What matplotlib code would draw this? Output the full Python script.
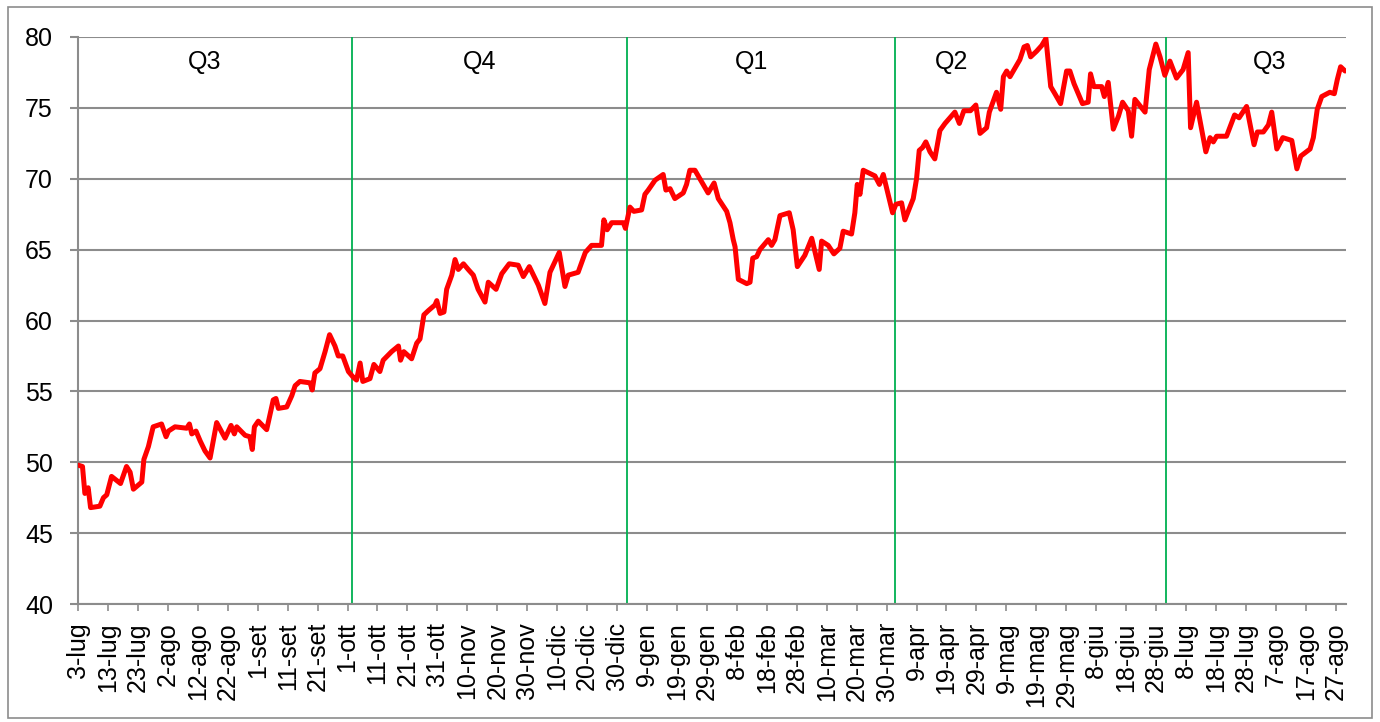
import matplotlib
matplotlib.use("Agg")
import matplotlib.pyplot as plt
from matplotlib.patches import Rectangle

plt.rcParams['font.family'] = ['Liberation Sans', 'DejaVu Sans']

# day offset from 3-lug, value
days = [0, 1.5, 2.3, 3.4, 4.2, 7.3, 8.5, 9.6, 11.2, 14.2, 16.2, 17.4, 18.5, 21.3, 22.0,
        23.5, 25.1, 27.9, 29.4, 30.2, 32.4, 36.3, 37.2, 38.0, 39.4, 40.8, 42.4, 44.1,
        46.3, 49.1, 51.1, 52.2, 53.0, 55.8, 57.4, 58.2, 58.9, 60.2, 63.0, 65.2, 66.1,
        66.9, 69.7, 71.4, 72.5, 74.1, 77.5, 78.2, 79.1, 80.8, 82.5, 84.0, 85.8, 86.9,
        88.4, 90.3, 91.9, 93.0, 94.2, 95.1, 97.5, 98.8, 100.8, 101.9, 104.7, 107.0,
        107.7, 108.8, 111.4, 113.1, 114.2, 115.5, 117.0, 119.2, 119.8, 120.9, 122.2,
        123.1, 124.8, 125.9, 127.0, 128.7, 130.3, 132.0, 133.6, 135.9, 137.0, 139.6,
        141.5, 144.0, 147.0, 148.7, 150.7, 153.7, 155.9, 157.6, 160.7, 162.6, 163.7,
        167.0, 169.4, 171.5, 174.8, 175.6, 176.7, 178.2, 182.1, 182.8, 184.3, 185.6,
        188.2, 189.3, 190.4, 192.7, 195.4, 196.3, 197.7, 199.3, 202.1, 203.2, 204.3,
        206.0, 208.2, 210.4, 212.4, 213.8, 216.6, 217.7, 218.8, 219.4, 220.5, 223.3,
        224.4, 225.3, 226.6, 227.7, 230.5, 231.6, 232.7, 234.4, 237.5, 238.8, 240.2,
        242.7, 245.0, 247.5, 248.3, 250.5, 252.4, 254.4, 255.5, 258.3, 259.4, 260.2,
        261.1, 262.2, 266.1, 267.6, 268.9, 272.0, 273.1, 275.0, 276.1, 278.9, 280.0,
        280.9, 282.0, 283.1, 284.5, 286.1, 287.8, 289.5, 292.8, 294.3, 295.8, 298.0,
        299.8, 301.2, 303.4, 304.3, 306.7, 308.1, 309.0, 310.1, 311.2, 313.4, 314.5,
        315.9, 317.0, 318.1, 320.1, 321.8, 323.2, 324.8, 326.2, 328.1, 330.1, 331.2,
        332.6, 335.4, 337.3, 338.1, 339.2, 341.8, 342.7, 344.0, 345.7, 347.4, 348.8,
        350.7, 351.8, 352.9, 356.3, 357.7, 359.9, 361.3, 362.9, 364.6, 366.8, 369.0,
        370.7, 371.5, 373.5, 376.6, 378.0, 379.1, 380.2, 383.5, 386.2, 387.7, 390.2,
        392.7, 393.8, 395.8, 397.5, 398.6, 400.3, 402.3, 405.3, 407.0, 408.3, 411.4,
        412.5, 413.8, 415.3, 418.0, 419.5, 420.5, 421.6, 423.1]
values = [49.8, 49.7, 47.8, 48.2, 46.8, 46.9, 47.5, 47.7, 49.0, 48.5, 49.7, 49.3, 48.1, 48.6, 50.2,
          51.1, 52.5, 52.7, 51.8, 52.2, 52.5, 52.4, 52.7, 52.0, 52.2, 51.5, 50.8, 50.3,
          52.8, 51.7, 52.6, 52.0, 52.5, 51.9, 51.8, 50.9, 52.5, 52.9, 52.3, 54.4, 54.5,
          53.8, 53.9, 54.7, 55.4, 55.7, 55.6, 55.1, 56.3, 56.6, 57.8, 59.0, 58.2, 57.5,
          57.5, 56.4, 56.0, 55.8, 57.0, 55.7, 55.9, 56.9, 56.4, 57.2, 57.8, 58.2,
          57.2, 57.8, 57.3, 58.4, 58.7, 60.4, 60.7, 61.1, 61.4, 60.5, 60.6,
          62.2, 63.2, 64.3, 63.6, 64.0, 63.6, 63.2, 62.2, 61.3, 62.7, 62.2,
          63.3, 64.0, 63.9, 63.1, 63.8, 62.5, 61.2, 63.4, 64.8, 62.4, 63.2,
          63.4, 64.8, 65.3, 65.3, 67.1, 66.4, 66.9, 66.9, 66.5, 68.0, 67.7,
          67.8, 68.9, 69.2, 69.9, 70.3, 69.2, 69.3, 68.6, 69.0, 69.6, 70.6,
          70.6, 69.8, 69.0, 69.7, 68.6, 67.7, 66.9, 65.7, 65.2, 62.9, 62.6,
          62.7, 64.4, 64.5, 65.0, 65.7, 65.3, 65.7, 67.4, 67.6, 66.4, 63.8,
          64.6, 65.8, 63.6, 65.6, 65.3, 64.7, 65.1, 66.3, 66.1, 67.6, 69.6,
          68.9, 70.6, 70.2, 69.6, 70.3, 67.6, 68.2, 68.3, 67.1, 68.6, 70.0,
          72.0, 72.2, 72.6, 71.9, 71.4, 73.4, 73.9, 74.7, 73.9, 74.8, 74.8,
          75.2, 73.2, 73.6, 74.7, 76.1, 74.9, 77.2, 77.6, 77.2, 78.0, 78.4,
          79.3, 79.4, 78.6, 79.0, 79.4, 79.9, 76.5, 76.0, 75.3, 77.6, 77.6,
          76.7, 75.3, 75.4, 77.4, 76.5, 76.5, 75.8, 76.8, 73.5, 74.4, 75.4,
          74.8, 73.0, 75.6, 74.7, 77.7, 79.5, 78.6, 77.3, 78.3, 77.1, 77.7,
          78.9, 73.6, 75.4, 71.9, 72.9, 72.6, 73.0, 73.0, 74.5, 74.3, 75.1,
          72.4, 73.3, 73.3, 73.8, 74.7, 72.1, 72.9, 72.7, 70.7, 71.6, 72.1,
          72.9, 74.9, 75.8, 76.1, 76.0, 77.0, 77.9, 77.6]

tick_labels = ["3-lug", "13-lug", "23-lug", "2-ago", "12-ago", "22-ago", "1-set", "11-set",
               "21-set", "1-ott", "11-ott", "21-ott", "31-ott", "10-nov", "20-nov", "30-nov",
               "10-dic", "20-dic", "30-dic", "9-gen", "19-gen", "29-gen", "8-feb", "18-feb",
               "28-feb", "10-mar", "20-mar", "30-mar", "9-apr", "19-apr", "29-apr", "9-mag",
               "19-mag", "29-mag", "8-giu", "18-giu", "28-giu", "8-lug", "18-lug", "28-lug",
               "7-ago", "17-ago", "27-ago"]
tick_days = [10 * i for i in range(len(tick_labels))]

quarter_lines = [91.5, 183.2, 272.8, 363.3]
quarter_names = ["Q3", "Q4", "Q1", "Q2", "Q3"]
quarter_label_days = [42.4, 134.2, 225.0, 291.8, 398.0]
quarter_label_y = 78.25

W, H = 1380, 722
fig = plt.figure(figsize=(W / 100, H / 100), dpi=100)
fig.patches.append(Rectangle((8 / W, 4 / H), (1372 - 8) / W, (715 - 4) / H,
                             transform=fig.transFigure, fill=False,
                             edgecolor='#8c8c8c', lw=1.2))

ax = fig.add_axes([78 / W, 1 - 604 / H, (1346 - 78) / W, (604 - 37) / H])
ax.set_xlim(0, 423.4)
ax.set_ylim(40, 80)
ax.set_yticks(range(40, 81, 5))
ax.set_xticks(tick_days)
ax.set_xticklabels(tick_labels, rotation=90, fontsize=18)
ax.tick_params(axis='y', labelsize=18, length=6, width=1.5, color='#8c8c8c', pad=12)
ax.tick_params(axis='x', length=5, width=1.2, color='#8c8c8c', pad=8)
ax.grid(axis='y', color='#8c8c8c', lw=1.5)
ax.set_axisbelow(True)
for s in ['top', 'right']:
    ax.spines[s].set_visible(False)
for s in ['left', 'bottom']:
    ax.spines[s].set_color('#8c8c8c')
    ax.spines[s].set_linewidth(1.5)

for q in quarter_lines:
    ax.axvline(q, color='#00b050', lw=1.3, zorder=2)

ax.plot(days, values, color='#ff0000', lw=3.6, solid_joinstyle='round',
        solid_capstyle='round', zorder=3)

for d, name in zip(quarter_label_days, quarter_names):
    ax.text(d, quarter_label_y, name, fontsize=18, ha='center', va='center')

fig.savefig("out.png", dpi=100)
